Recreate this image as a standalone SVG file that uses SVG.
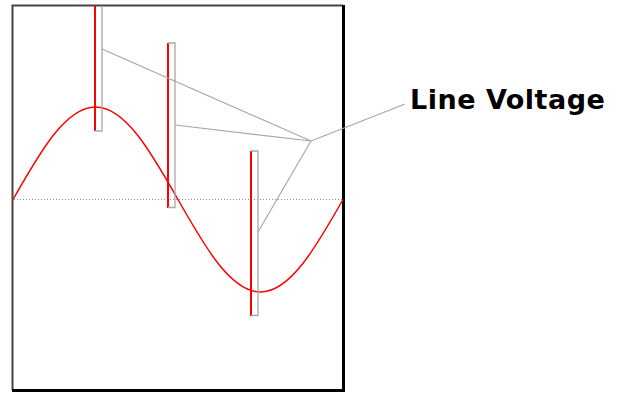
<svg xmlns="http://www.w3.org/2000/svg" width="621" height="393" viewBox="0 0 621 393">
<style>
.red{stroke:#ff0000;stroke-width:2;fill:none}
.br{stroke:#a8a8a8;stroke-width:1.3;fill:none}
.lead{stroke:#a8a8a8;stroke-width:1.2;fill:none}
</style>
<rect width="621" height="393" fill="#ffffff"/>
<g id="frame">
<path d="M12.5,390 V5.5 H343" stroke="#444444" stroke-width="2" fill="none"/>
<path d="M343.5,5 V390.5 H12" stroke="#000000" stroke-width="3" fill="none"/>
</g>
<g id="axis">
<line x1="14" y1="199.5" x2="342" y2="199.5" stroke="#909090" stroke-width="1" stroke-dasharray="1,2"/>
</g>
<g id="sine">
<path class="red" style="stroke-width:1.5" d="M13,199.5 C39.93,152.07 65.64,107 95.5,107 S151.07,152.07 178,199.5 S230.64,292 260.5,292 S316.07,246.93 343,199.5"/>
</g>
<g id="sample1">
<line class="red" x1="95" y1="6" x2="95" y2="131"/>
<path class="br" d="M102,6 V131 H95"/>
</g>
<g id="sample2">
<line class="red" x1="168" y1="43" x2="168" y2="208"/>
<path class="br" d="M168,43 H175 V207.5 H168"/>
</g>
<g id="sample3">
<line class="red" x1="251" y1="151" x2="251" y2="316"/>
<path class="br" d="M251,151 H258 V315.5 H251"/>
</g>
<g id="connectors">
<path class="lead" d="M102,49 L311,141"/>
<path class="lead" d="M175,125 L311,141"/>
<path class="lead" d="M258,232 L311,141"/>
<path class="lead" d="M311,141 L405,104"/>
</g>
<g id="label">
<text x="410" y="109.3" font-family="'DejaVu Sans', Verdana, sans-serif" font-weight="bold" font-size="27" letter-spacing="0.5" fill="#000000">Line Voltage</text>
</g>
</svg>
